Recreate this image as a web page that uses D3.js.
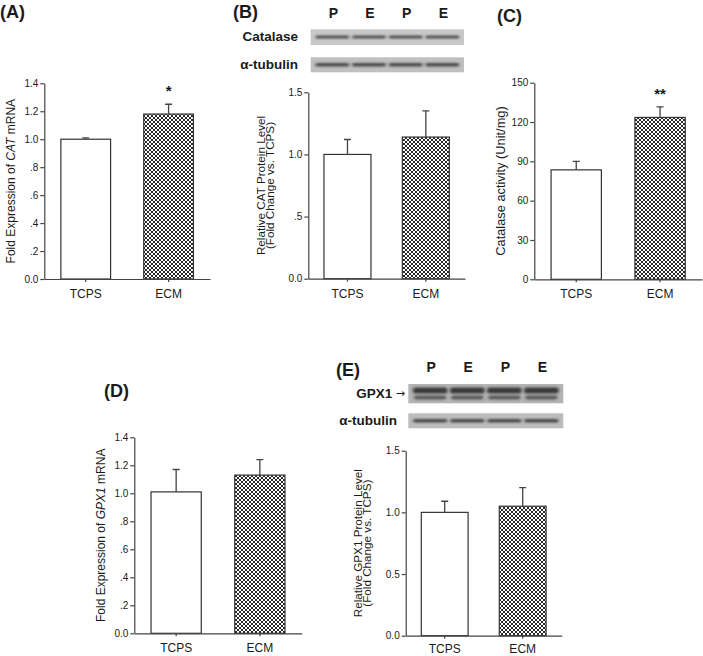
<!DOCTYPE html>
<html>
<head>
<meta charset="utf-8">
<script src="https://cdn.jsdelivr.net/npm/d3@7"></script>
<style>
  html, body { margin: 0; padding: 0; background: #fff; }
  svg { display: block; }
  text { font-family: "Liberation Sans", Arial, sans-serif; fill: #1a1a1a; }
</style>
</head>
<body>
<svg id="chart" width="703" height="656"></svg>
<script>
// ---------------- DATA ----------------
const categories = ["TCPS", "ECM"];

const catMrnaMean = [1.00, 1.18];
const catMrnaErr  = [0.01, 0.07];
const catMrnaStars = ["", "*"];

const catProteinMean = [1.00, 1.14];
const catProteinErr  = [0.12, 0.21];

const catActivityMean = [83.5, 123.5];
const catActivityErr  = [6.5, 8.0];
const catActivityStars = ["", "**"];

const gpxMrnaMean = [1.01, 1.13];
const gpxMrnaErr  = [0.16, 0.11];

const gpxProteinMean = [1.00, 1.05];
const gpxProteinErr  = [0.09, 0.15];

const ticksMrna = [0, 0.2, 0.4, 0.6, 0.8, 1.0, 1.2, 1.4];
const tickLabelsMrna = ["0.0", ".2", ".4", ".6", ".8", "1.0", "1.2", "1.4"];
const ticksProtein = [0, 0.5, 1.0, 1.5];
const tickLabelsProteinB = ["0.0", ".5", "1.0", "1.5"];
const tickLabelsProteinE = ["0.0", "0.5", "1.0", "1.5"];
const ticksActivity = [0, 30, 60, 90, 120, 150];
const tickLabelsActivity = ["0", "30", "60", "90", "120", "150"];

const blotLanes = ["P", "E", "P", "E"];

// ---------------- DRAW ----------------
const svg = d3.select("#chart");
const defs = svg.append("defs");
const pat = defs.append("pattern")
  .attr("id", "xhatch").attr("patternUnits", "userSpaceOnUse")
  .attr("width", 4).attr("height", 4);
pat.append("rect").attr("width", 4).attr("height", 4).attr("fill", "#fff");
pat.append("path").attr("d", "M0,0L4,4M4,0L0,4M-1,1L1,-1M3,5L5,3M-1,3L1,5M3,-1L5,1")
  .attr("stroke", "#111").attr("stroke-width", 0.9);

const blur = defs.append("filter").attr("id", "blur")
  .attr("x", "-20%").attr("y", "-80%").attr("width", "140%").attr("height", "260%");
blur.append("feGaussianBlur").attr("stdDeviation", "1.8 1.2");

const axisColor = "#444";

function panel(cfg) {
  const g = svg.append("g");
  const x = d3.scaleBand().domain(categories).range([cfg.x0, cfg.x1])
    .paddingInner(0.4).paddingOuter(0.2);
  const y = d3.scaleLinear().domain([0, cfg.max]).range([cfg.yb, cfg.yt]);

  // bars
  g.selectAll("rect.bar").data(categories).enter().append("rect")
    .attr("x", d => x(d))
    .attr("width", x.bandwidth())
    .attr("y", (d, i) => y(cfg.mean[i]))
    .attr("height", (d, i) => y(0) - y(cfg.mean[i]))
    .attr("fill", (d, i) => i === 0 ? "#fff" : "url(#xhatch)")
    .attr("stroke", "#333").attr("stroke-width", 1.2);

  // error bars (upper)
  g.selectAll("path.err").data(categories).enter().append("path")
    .attr("d", (d, i) => {
      const cx = x(d) + x.bandwidth() / 2;
      const y1 = y(cfg.mean[i]), y2 = y(cfg.mean[i] + cfg.err[i]);
      return `M${cx},${y1}V${y2}M${cx - 3.5},${y2}H${cx + 3.5}`;
    })
    .attr("fill", "none").attr("stroke", "#444").attr("stroke-width", 1.3);

  // stars
  if (cfg.stars) {
    g.selectAll("text.star").data(categories).enter().append("text")
      .attr("x", d => x(d) + x.bandwidth() / 2)
      .attr("y", cfg.starY)
      .attr("text-anchor", "middle")
      .attr("font-size", 15).attr("font-weight", "bold")
      .text((d, i) => cfg.stars[i]);
  }

  // y axis
  const ya = g.append("g").attr("transform", `translate(${cfg.x0},0)`)
    .call(d3.axisLeft(y).tickValues(cfg.ticks)
      .tickFormat((d, i) => cfg.tickLabels[i])
      .tickSize(4).tickSizeOuter(0).tickPadding(2));
  ya.selectAll("text").attr("font-size", 10).attr("font-family", "Liberation Sans, Arial, sans-serif").attr("fill", "#1a1a1a");
  ya.selectAll("line, path").attr("stroke", axisColor).attr("stroke-width", 1.2);

  // x axis
  const xa = g.append("g").attr("transform", `translate(0,${cfg.yb})`)
    .call(d3.axisBottom(x).tickSize(3).tickSizeOuter(0).tickPadding(cfg.xPad));
  xa.selectAll("text").attr("font-size", 12).attr("font-family", "Liberation Sans, Arial, sans-serif").attr("fill", "#1a1a1a");
  xa.selectAll("line, path").attr("stroke", axisColor).attr("stroke-width", 1.2);

  // y label
  const cy = (cfg.yt + cfg.yb) / 2;
  cfg.ylabel.forEach((line, li) => {
    const t = g.append("text")
      .attr("transform", `translate(${cfg.x0 - cfg.labelOffsets[li]},${cy}) rotate(-90)`)
      .attr("text-anchor", "middle")
      .attr("dominant-baseline", "middle")
      .attr("font-size", cfg.labelSize);
    line.forEach(part => {
      t.append("tspan").attr("font-style", part.italic ? "italic" : "normal").text(part.t);
    });
  });

  // panel title
  g.append("text").attr("x", cfg.titleX).attr("y", cfg.titleY)
    .attr("font-size", 18).attr("font-weight", "bold").text(cfg.title);
}

function blot(cfg) {
  const g = svg.append("g");
  const lx = d3.scaleBand().domain(d3.range(blotLanes.length)).range([cfg.x0, cfg.x1]).padding(0.18);
  g.selectAll("text.lane").data(blotLanes).enter().append("text")
    .attr("x", (d, i) => lx(i) + lx.bandwidth() / 2 + 1)
    .attr("y", cfg.laneY)
    .attr("text-anchor", "middle").attr("font-size", 14).attr("font-weight", "bold")
    .text(d => d);
  cfg.strips.forEach(s => {
    g.append("rect").attr("x", cfg.x0).attr("y", s.y0).attr("width", cfg.x1 - cfg.x0)
      .attr("height", s.y1 - s.y0).attr("fill", s.bg);
    g.selectAll(null).data(blotLanes).enter().append("rect")
      .attr("x", (d, i) => lx(i) - 2)
      .attr("width", lx.bandwidth() + 4)
      .attr("y", s.by).attr("height", s.bh)
      .attr("rx", 2)
      .attr("fill", s.band).attr("filter", "url(#blur)");
    if (s.by2 !== undefined) {
      g.selectAll(null).data(blotLanes).enter().append("rect")
        .attr("x", (d, i) => lx(i) - 1)
        .attr("width", lx.bandwidth() + 2)
        .attr("y", s.by2).attr("height", s.bh2)
        .attr("rx", 2)
        .attr("fill", s.band2).attr("filter", "url(#blur)");
    }
    const t = g.append("text").attr("x", s.labelX || cfg.labelX).attr("y", (s.y0 + s.y1) / 2)
      .attr("text-anchor", "end").attr("dominant-baseline", "middle")
      .attr("font-size", 13.5).attr("font-weight", "bold");
    t.append("tspan").text(s.label);
    if (s.arrow) t.append("tspan").attr("font-weight", "normal").attr("font-family", "DejaVu Sans, sans-serif").attr("font-size", 11).text(" " + s.arrow);
  });
}

// Panel A
panel({
  x0: 44.3, x1: 210, yt: 83.3, yb: 279, max: 1.4, xPad: 7.5,
  mean: catMrnaMean, err: catMrnaErr, stars: catMrnaStars, starY: 96,
  ticks: ticksMrna, tickLabels: tickLabelsMrna,
  ylabel: [[{t: "Fold Expression of "}, {t: "CAT", italic: true}, {t: " mRNA"}]],
  labelOffsets: [32], labelSize: 12,
  title: "(A)", titleX: 0, titleY: 18
});

// Panel B
panel({
  x0: 308.3, x1: 465, yt: 92.3, yb: 278.7, max: 1.5, xPad: 7.5,
  mean: catProteinMean, err: catProteinErr,
  ticks: ticksProtein, tickLabels: tickLabelsProteinB,
  ylabel: [[{t: "Relative CAT Protein Level"}], [{t: "(Fold Change vs. TCPS)"}]],
  labelOffsets: [46.5, 37.5], labelSize: 11.7,
  title: "(B)", titleX: 233, titleY: 18
});
blot({
  x0: 310.7, x1: 464, laneY: 18, labelX: 298,
  strips: [
    {label: "Catalase", y0: 29.3, y1: 45, bg: "#c8c8c8", by: 35.5, bh: 3, band: "#505050"},
    {label: "α-tubulin", y0: 57.3, y1: 72.3, bg: "#bfbfbf", by: 63, bh: 3.5, band: "#4c4c4c"}
  ]
});

// Panel C
panel({
  x0: 534.3, x1: 702, yt: 82.7, yb: 279.3, max: 150, xPad: 7.5,
  mean: catActivityMean, err: catActivityErr, stars: catActivityStars, starY: 99,
  ticks: ticksActivity, tickLabels: tickLabelsActivity,
  ylabel: [[{t: "Catalase activity (Unit/mg)"}]],
  labelOffsets: [32.6], labelSize: 12.8,
  title: "(C)", titleX: 497, titleY: 22
});

// Panel D
panel({
  x0: 134.3, x1: 301.7, yt: 437.3, yb: 633.3, max: 1.4, xPad: 7,
  mean: gpxMrnaMean, err: gpxMrnaErr,
  ticks: ticksMrna, tickLabels: tickLabelsMrna,
  ylabel: [[{t: "Fold Expression of "}, {t: "GPX1", italic: true}, {t: " mRNA"}]],
  labelOffsets: [32], labelSize: 12,
  title: "(D)", titleX: 104, titleY: 397
});

// Panel E
panel({
  x0: 405.7, x1: 561.7, yt: 450.7, yb: 635.7, max: 1.5, xPad: 5.5,
  mean: gpxProteinMean, err: gpxProteinErr,
  ticks: ticksProtein, tickLabels: tickLabelsProteinE,
  ylabel: [[{t: "Relative GPX1 Protein Level"}], [{t: "(Fold Change vs. TCPS)"}]],
  labelOffsets: [46.5, 37.5], labelSize: 11.7,
  title: "(E)", titleX: 336, titleY: 376
});
blot({
  x0: 408.3, x1: 563.3, laneY: 372, labelX: 397,
  strips: [
    {label: "GPX1", arrow: "→", labelX: 405, y0: 384, y1: 403.3, bg: "#b4b4b4", by: 387.5, bh: 6, band: "#3a3a3a", by2: 395.5, bh2: 4, band2: "#5a5a5a"},
    {label: "α-tubulin", y0: 413.3, y1: 428.3, bg: "#bdbdbd", by: 419, bh: 3.5, band: "#4a4a4a"}
  ]
});
</script>
</body>
</html>
